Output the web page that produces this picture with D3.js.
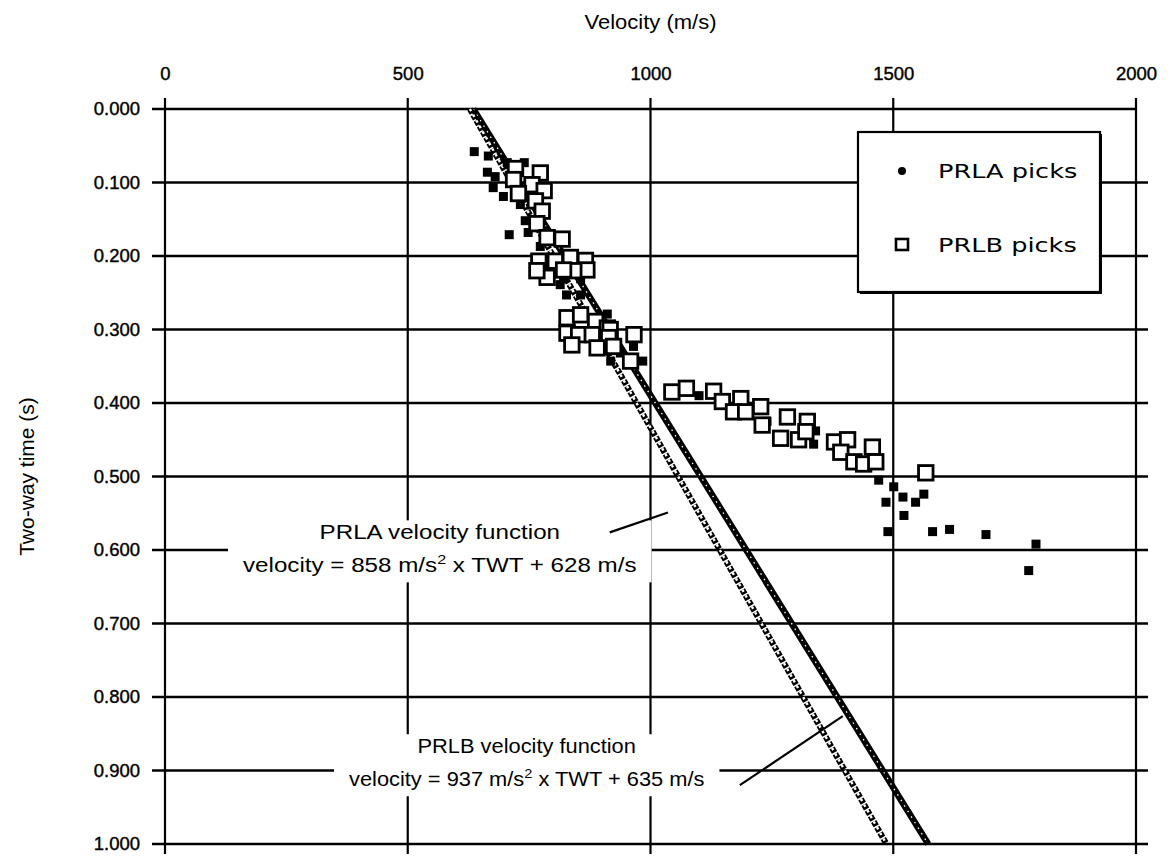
<!DOCTYPE html>
<html lang="en">
  <head>
    <meta charset="UTF-8" />
    <title>Velocity picks vs two-way time</title>
    <script src="https://d3js.org/d3.v7.min.js"></script>
    <style>
      body { margin: 0; background: #fff; }
      text { font-family: "Liberation Sans", Arial, sans-serif; fill: #000; }
    </style>
  </head>
  <body>
    <div id="chart"></div>
    <script>
      // PRLA picks (filled squares): velocity (m/s) and two-way time (s)
      const prlaVel = [637, 666, 664, 680, 676, 697, 705, 740, 732, 742,
        709, 748, 773, 800, 814, 821, 856, 827, 856, 911,
        911, 918, 938, 965, 984, 1100, 1240, 1336, 1340, 1470,
        1501, 1485, 1520, 1546, 1563, 1522, 1489, 1581, 1616, 1691,
        1794, 1779];
      const prlaTwt = [0.058, 0.064, 0.086, 0.092, 0.107, 0.119, 0.073, 0.073, 0.130, 0.152,
        0.171, 0.168, 0.187, 0.216, 0.239, 0.231, 0.231, 0.253, 0.253, 0.279,
        0.320, 0.343, 0.332, 0.323, 0.343, 0.390, 0.425, 0.456, 0.438, 0.505,
        0.514, 0.535, 0.528, 0.535, 0.524, 0.553, 0.575, 0.575, 0.572, 0.579,
        0.592, 0.628];

      // PRLB picks (open squares)
      const prlbVel = [722, 773, 718, 756, 781, 728, 763, 777, 766,
        787, 818, 770, 804, 835, 866, 869, 842, 787, 821, 766,
        828, 856, 887, 911, 917, 828, 852, 880, 914, 966, 838, 890, 924, 959,
        1044, 1074, 1130, 1148, 1186, 1171, 1196, 1227, 1230, 1282, 1323,
        1268, 1305, 1320, 1379, 1406, 1392, 1419, 1439, 1457, 1464, 1567];
      const prlbTwt = [0.081, 0.087, 0.096, 0.103, 0.111, 0.115, 0.125, 0.139, 0.156,
        0.175, 0.177, 0.207, 0.207, 0.202, 0.206, 0.219, 0.220, 0.229, 0.219, 0.220,
        0.284, 0.280, 0.289, 0.298, 0.300, 0.305, 0.307, 0.307, 0.311, 0.307, 0.321, 0.325, 0.323, 0.343,
        0.385, 0.380, 0.384, 0.398, 0.394, 0.412, 0.412, 0.405, 0.430, 0.419, 0.425,
        0.448, 0.450, 0.439, 0.453, 0.450, 0.467, 0.480, 0.483, 0.460, 0.480, 0.495];

      // velocity functions, end points at TWT = 0 and 1 s
      const funcTwt = [0, 1];
      const prlaFuncVel = [628, 1486];
      const prlbFuncVel = [635, 1572];

      // ticks
      const velTicks = [0, 500, 1000, 1500, 2000];
      const twtTicks = [0, 0.1, 0.2, 0.3, 0.4, 0.5, 0.6, 0.7, 0.8, 0.9, 1.0];

      const margin = { top: 109, right: 40, bottom: 14, left: 165 };
      const width = 971;
      const height = 735;

      const svg = d3
        .select("#chart")
        .append("svg")
        .attr("width", 1176)
        .attr("height", 858);

      const x = d3.scaleLinear().domain([0, 2000]).range([margin.left, margin.left + width]);
      const y = d3.scaleLinear().domain([0, 1]).range([margin.top, margin.top + height]);

      // stretched text helper (the scanned figure has wide lettering)
      function label(g, px, py, str, size, sx, anchor) {
        return g
          .append("text")
          .attr("transform", "translate(" + px + "," + py + ") scale(" + sx + ",1)")
          .attr("text-anchor", anchor || "middle")
          .style("font-size", size + "px")
          .text(str);
      }

      // grid
      const grid = svg.append("g");
      grid
        .selectAll(".v")
        .data(velTicks)
        .join("line")
        .attr("x1", (d) => x(d))
        .attr("x2", (d) => x(d))
        .attr("y1", y(0) - 11)
        .attr("y2", y(1) + 10)
        .attr("stroke", "#000")
        .attr("stroke-width", 2.2);
      grid
        .selectAll(".h")
        .data(twtTicks)
        .join("line")
        .attr("x1", x(0) - 13)
        .attr("x2", (d) => (d === 0 ? x(2000) : x(2000) + 12))
        .attr("y1", (d) => y(d))
        .attr("y2", (d) => y(d))
        .attr("stroke", "#000")
        .attr("stroke-width", 2.6);

      // axes (labels only, grid drawn above)
      const xAxis = svg
        .append("g")
        .attr("transform", "translate(0," + y(0) + ")")
        .call(d3.axisTop(x).tickValues(velTicks).tickSize(0).tickPadding(29).tickFormat(d3.format("d")));
      const yAxis = svg
        .append("g")
        .attr("transform", "translate(" + x(0) + ",0)")
        .call(d3.axisLeft(y).tickValues(twtTicks).tickSize(0).tickPadding(25).tickFormat(d3.format(".3f")));
      [xAxis, yAxis].forEach((a) => {
        a.select(".domain").remove();
        a.selectAll("text")
          .style("font-size", "18.5px")
          .style("stroke", "#000")
          .style("stroke-width", "0.4px")
          .attr("font-family", null);
      });

      // axis titles
      label(svg, (x(0) + x(2000)) / 2, 29, "Velocity (m/s)", 20, 1.1);
      svg
        .append("text")
        .attr("transform", "translate(34," + (y(0) + y(1)) / 2 + ") rotate(-90)")
        .attr("text-anchor", "middle")
        .style("font-size", "21px")
        .text("Two-way time (s)");

      // annotations with white boxes breaking the grid
      const notes = [
        { name: "PRLA", coef: "858", off: "628", v: 566, t: 0.576, sx: 1.24, from: [916, 0.576], to: [1036, 0.549] },
        { name: "PRLB", coef: "937", off: "635", v: 745, t: 0.867, sx: 1.12, from: [1184, 0.92], to: [1396, 0.826] }
      ];
      notes.forEach((n) => {
        const g = svg.append("g");
        const box = g.append("rect").attr("fill", "#fff");
        const t1 = label(g, x(n.v), y(n.t) + 7, n.name + " velocity function", 19.5, n.sx);
        const t2 = g
          .append("text")
          .attr("transform", "translate(" + x(n.v) + "," + (y(n.t) + 40) + ") scale(" + n.sx + ",1)")
          .attr("text-anchor", "middle")
          .style("font-size", "19.5px");
        t2.append("tspan").text("velocity = " + n.coef + " m/s");
        t2.append("tspan").attr("dy", -8).style("font-size", "13px").text("2");
        t2.append("tspan").attr("dy", 8).text(" x TWT + " + n.off + " m/s");
        const w = Math.max(t1.node().getBBox().width, t2.node().getBBox().width) * n.sx;
        box
          .attr("x", x(n.v) - w / 2 - 15)
          .attr("y", y(n.t) - 12)
          .attr("width", w + 30)
          .attr("height", 62);
        g.append("line")
          .attr("x1", x(n.from[0]))
          .attr("y1", y(n.from[1]))
          .attr("x2", x(n.to[0]))
          .attr("y2", y(n.to[1]))
          .attr("stroke", "#000")
          .attr("stroke-width", 2.2);
      });

      // velocity function lines (drawn as chains of small squares in the original)
      const line = d3
        .line()
        .x((d) => x(d[0]))
        .y((d) => y(d[1]));
      const prlaFunc = funcTwt.map((t, i) => [prlaFuncVel[i], t]);
      const prlbFunc = funcTwt.map((t, i) => [prlbFuncVel[i], t]);

      svg.append("path").datum(prlbFunc).attr("d", line)
        .attr("fill", "none").attr("stroke", "#000").attr("stroke-width", 6.5);
      svg.append("path").datum(prlbFunc).attr("d", line)
        .attr("fill", "none").attr("stroke", "#fff").attr("stroke-width", 1.3)
        .attr("stroke-dasharray", "1.5,5");
      svg.append("path").datum(prlaFunc).attr("d", line)
        .attr("fill", "none").attr("stroke", "#000").attr("stroke-width", 6)
        .attr("stroke-dasharray", "5,1.5");
      svg.append("path").datum(prlaFunc).attr("d", line)
        .attr("fill", "none").attr("stroke", "#fff").attr("stroke-width", 2.4)
        .attr("stroke-dasharray", "2.5,4");

      // picks
      const aSize = 9;
      svg
        .append("g")
        .selectAll("rect")
        .data(prlaVel)
        .join("rect")
        .attr("x", (d) => x(d) - aSize / 2)
        .attr("y", (d, i) => y(prlaTwt[i]) - aSize / 2)
        .attr("width", aSize)
        .attr("height", aSize)
        .attr("fill", "#000");

      const bSize = 14.5;
      svg
        .append("g")
        .selectAll("rect")
        .data(prlbVel)
        .join("rect")
        .attr("x", (d) => x(d) - bSize / 2)
        .attr("y", (d, i) => y(prlbTwt[i]) - bSize / 2)
        .attr("width", bSize)
        .attr("height", bSize)
        .attr("fill", "#fff")
        .attr("stroke", "#000")
        .attr("stroke-width", 2.8);

      // legend
      const lg = svg.append("g").attr("transform", "translate(858,132)");
      lg.append("rect")
        .attr("x", 2).attr("y", 2).attr("width", 242).attr("height", 160).attr("fill", "#000");
      lg.append("rect")
        .attr("width", 242).attr("height", 160)
        .attr("fill", "#fff").attr("stroke", "#000").attr("stroke-width", 2.2);
      lg.append("circle").attr("cx", 44).attr("cy", 39).attr("r", 4).attr("fill", "#000");
      lg.append("rect").attr("x", 38).attr("y", 107).attr("width", 12).attr("height", 11)
        .attr("fill", "#fff").attr("stroke", "#000").attr("stroke-width", 2.6);
      label(lg, 80, 46, "PRLA picks", 20, 1.28, "start").style("font-family", "'DejaVu Sans', sans-serif");
      label(lg, 80, 120, "PRLB picks", 20, 1.28, "start").style("font-family", "'DejaVu Sans', sans-serif");
    </script>
  </body>
</html>
